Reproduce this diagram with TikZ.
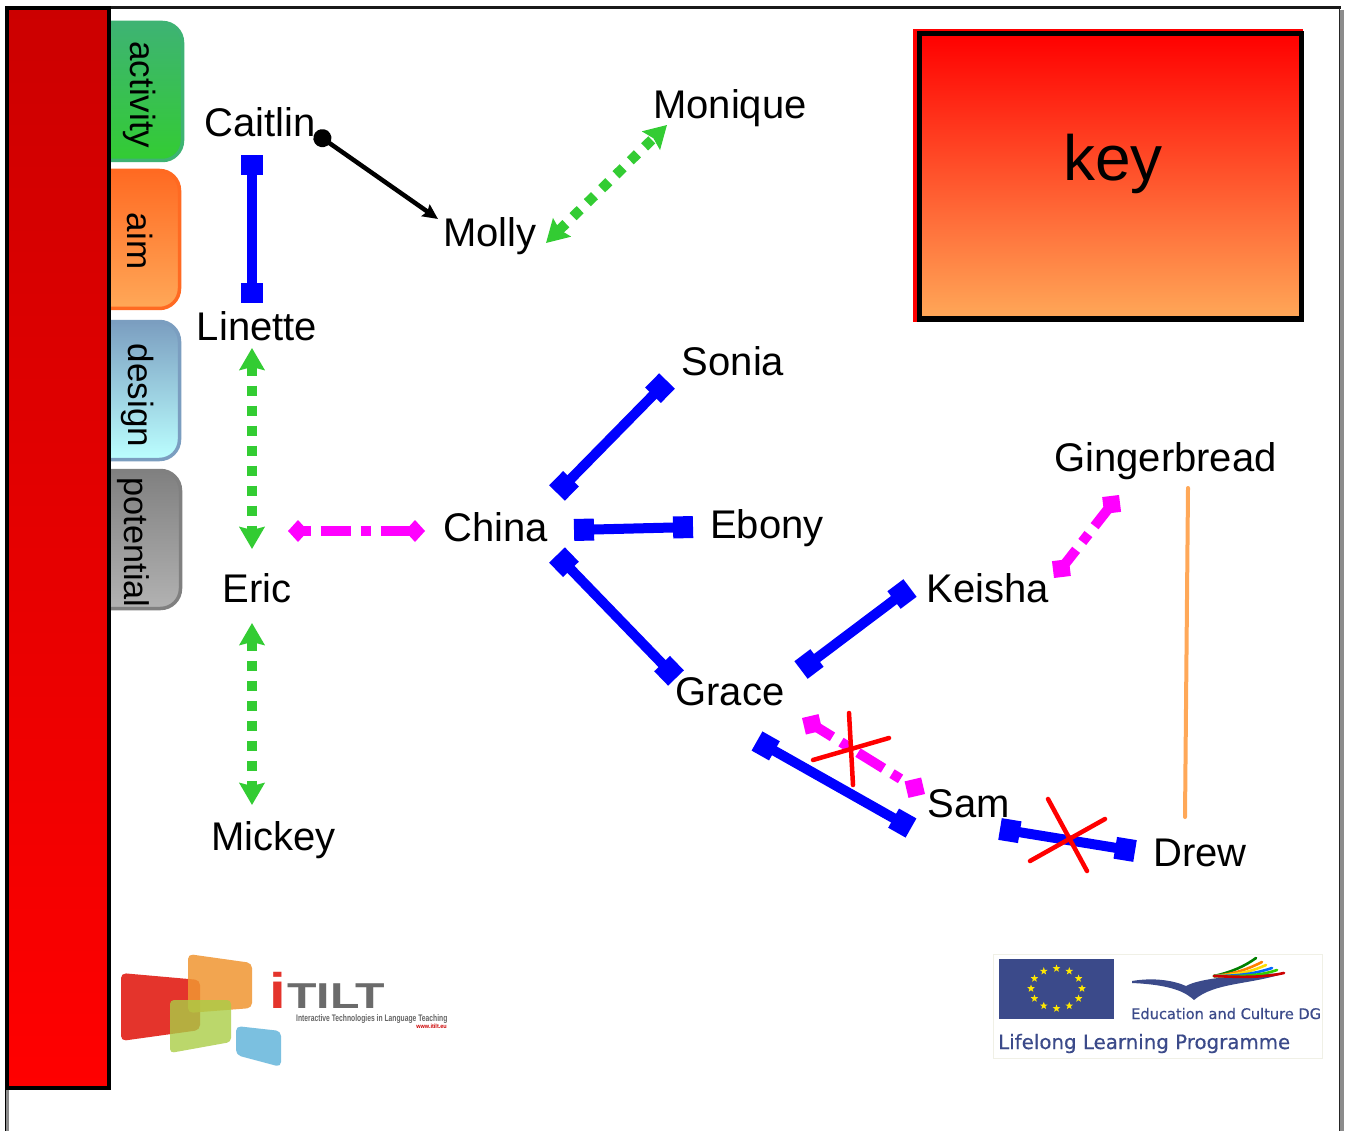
\documentclass[tikz,border=0pt]{standalone}
\usepackage{fontspec}
\setmainfont{Liberation Sans}
\newfontfamily\eufont[FakeBold=0.5]{DejaVu Sans}
\usetikzlibrary{arrows.meta,shapes.geometric,calc}
\definecolor{cblue}{HTML}{0000FF}
\definecolor{cgreen}{HTML}{33CC33}
\definecolor{cmag}{HTML}{FF00FF}
\definecolor{corange}{HTML}{FFA858}
\definecolor{eublue}{HTML}{3B4A8A}
\definecolor{tabgreen}{HTML}{3EB373}
\definecolor{taborange}{HTML}{FF6A22}
\definecolor{tabblue}{HTML}{7B9EC0}
\definecolor{tablight}{HTML}{BBFFFF}
\definecolor{tabgray}{HTML}{808080}
\definecolor{tabgraylt}{HTML}{B2B2B2}
\tikzset{
 lbl/.style={font=\fontsize{40}{44}\selectfont,inner sep=0pt,text=black},
 tabtxt/.style={font=\fontsize{35}{40}\selectfont,inner sep=0pt,rotate=-90},
 tabbox/.style={line width=3.5pt,rounded corners=20pt},
 bluelink/.style={draw=cblue,line width=10pt,{Square[length=20pt,width=22pt]}-{Square[length=20pt,width=22pt]}},
 greenlink/.style={draw=cgreen,line width=10pt,dash pattern=on 10pt off 10pt,{Stealth[length=22pt,width=25pt,inset=3pt]}-{Stealth[length=22pt,width=25pt,inset=3pt]}},
 maglink/.style={draw=cmag,line width=10pt,dash pattern=on 30pt off 10pt on 10pt off 10pt,dash phase=40pt,{Diamond[length=20pt,width=22pt]}-{Diamond[length=20pt,width=22pt]}},
 maglinkb/.style={draw=cmag,line width=10pt,dash pattern=on 30pt off 10pt on 10pt off 10pt,dash phase=11pt,{Diamond[length=24pt,width=24pt]}-{Diamond[length=24pt,width=24pt]}},
 blacklink/.style={draw=black,line width=4.5pt,{Circle[length=18pt]}-{Stealth[length=15pt,width=14pt,inset=2pt]}},
 crossline/.style={draw=red,line width=4.5pt,line cap=round},
 eustar/.style={star,star points=5,star point ratio=2.4,fill=yellow!90!orange,draw=none,minimum size=8pt,inner sep=0pt},
 band/.style={line width=2.6pt,line cap=round},
}
\begin{document}
\begin{tikzpicture}[x=1pt,y=-1pt]
\useasboundingbox (0,0) rectangle (1348,1131);
% page frame
\fill[white] (0,0) rectangle (1348,1131);
\draw[line width=4pt,black!45] (1342,10) -- (1342,1131);
\draw[line width=3pt,black!90] (7,8) -- (1341,8);
\draw[line width=1.4pt,black!85] (1339.5,8) -- (1339.5,1131);
\draw[line width=3pt,black!45] (7,1088) -- (7,1131);
\draw[line width=1pt,black] (5.8,1088) -- (5.8,1131);
% tabs
\draw[tabbox,draw=tabgreen,top color=tabgreen,bottom color=cgreen] (90,22.5) -- (182.5,22.5) -- (182.5,160.5) -- (90,160.5) -- cycle;
\draw[tabbox,draw=taborange,top color=taborange,bottom color=corange] (90,170.5) -- (179.5,170.5) -- (179.5,308.5) -- (90,308.5) -- cycle;
\draw[tabbox,draw=tabblue,top color=tabblue,bottom color=tablight] (90,321.5) -- (179.5,321.5) -- (179.5,459.5) -- (90,459.5) -- cycle;
\draw[tabbox,draw=tabgray,top color=tabgray,bottom color=tabgraylt] (90,470.5) -- (180.5,470.5) -- (180.5,608.5) -- (90,608.5) -- cycle;
\node[tabtxt] (tactivity) at (139.5,95) {activity};
\node[tabtxt] (taim) at (140.5,241) {aim};
\node[tabtxt] (tdesign) at (138,395.5) {design};
\node[tabtxt,font=\fontsize{34.3}{40}\selectfont] (tpotential) at (133,542.5) {potential};
% red bar
\draw[line width=4pt,draw=black,top color={rgb,255:red,204;green,0;blue,0},bottom color=red] (7,8) rectangle (108.5,1088);
% key
\fill[red] (913,29) rectangle (1303,322);
\draw[line width=5pt,draw=black,top color=red,bottom color=corange] (919,34) rectangle (1301,319);
\node[font=\fontsize{64}{70}\selectfont,inner sep=0pt] (key) at (1113,164) {key};
% labels
\node[lbl] (caitlin) at (260,122) {Caitlin};
\node[lbl] (monique) at (730,108) {Monique};
\node[lbl] (molly) at (490,236) {Molly};
\node[lbl] (linette) at (257,326) {Linette};
\node[lbl] (sonia) at (733,361) {Sonia};
\node[lbl] (china) at (495.5,527) {China};
\node[lbl] (ebony) at (767,528) {Ebony};
\node[lbl] (eric) at (257,588) {Eric};
\node[lbl] (gingerbread) at (1165.5,461) {Gingerbread};
\node[lbl] (keisha) at (988,588) {Keisha};
\node[lbl] (grace) at (730,691.5) {Grace};
\node[lbl] (sam) at (968.5,804) {Sam};
\node[lbl] (drew) at (1200,853) {Drew};
\node[lbl] (mickey) at (273.5,840) {Mickey};
% connector ends
\coordinate (cl1) at (252,155); \coordinate (cl2) at (252,303);
\coordinate (cm1) at (315,133); \coordinate (cm2) at (438,219);
\coordinate (mm1) at (546,243); \coordinate (mm2) at (667,125);
\coordinate (le1) at (252,348); \coordinate (le2) at (252,549);
\coordinate (em1) at (252,623); \coordinate (em2) at (252,805);
\coordinate (ec1) at (288,531); \coordinate (ec2) at (425,531);
\coordinate (cs1) at (557,493); \coordinate (cs2) at (667,381);
\coordinate (ce1) at (574,530); \coordinate (ce2) at (693,527);
\coordinate (cg1) at (557,555); \coordinate (cg2) at (676,678);
\coordinate (gk1) at (801,670); \coordinate (gk2) at (910,588);
\coordinate (gs1) at (757,741); \coordinate (gs2) at (911,828);
\coordinate (sd1) at (1000,829); \coordinate (sd2) at (1135,851);
\coordinate (gm1) at (802,718); \coordinate (gm2) at (925,794);
\coordinate (kg1) at (1054,578); \coordinate (kg2) at (1119,495);
\coordinate (gd1) at (1188,488); \coordinate (gd2) at (1185,817);
% connectors
\draw[bluelink] (cl1) -- (cl2);
\draw[blacklink] (cm1) -- (cm2);
\draw[greenlink] (mm1) -- (mm2);
\draw[greenlink] (le1) -- (le2);
\draw[greenlink] (em1) -- (em2);
\draw[maglink] (ec1) -- (ec2);
\draw[bluelink] (cs1) -- (cs2);
\draw[bluelink] (ce1) -- (ce2);
\draw[bluelink] (cg1) -- (cg2);
\draw[bluelink] (gk1) -- (gk2);
\draw[bluelink] (gs1) -- (gs2);
\draw[bluelink] (sd1) -- (sd2);
\draw[maglinkb] (gm1) -- (gm2);
\draw[maglinkb] (kg1) -- (kg2);
\draw[draw=corange,line width=4pt,line cap=round] (gd1) -- (gd2);
% crosses
\coordinate (xa1) at (849,713); \coordinate (xa2) at (853,785);
\coordinate (xa3) at (813,760); \coordinate (xa4) at (889,738);
\coordinate (xb1) at (1048,799); \coordinate (xb2) at (1087,871);
\coordinate (xb3) at (1030,861); \coordinate (xb4) at (1105,819);
\draw[crossline] (xa1) -- (xa2);
\draw[crossline] (xa3) -- (xa4);
\draw[crossline] (xb1) -- (xb2);
\draw[crossline] (xb3) -- (xb4);
% iTILT logo
\fill[rounded corners=5pt,fill={rgb,255:red,228;green,52;blue,44}] (121,973) -- (200,980) -- (200,1030) -- (121,1041) -- cycle;
\fill[rounded corners=5pt,fill={rgb,255:red,240;green,150;blue,50},fill opacity=.85] (188,954) -- (252,963) -- (252,1008) -- (188,1013) -- cycle;
\fill[rounded corners=4pt,fill={rgb,255:red,170;green,205;blue,70},fill opacity=.8] (170,1000) -- (231,1000) -- (231,1042) -- (170,1053) -- cycle;
\fill[rounded corners=5pt,fill={rgb,255:red,123;green,192;blue,224}] (236,1026) -- (281,1031) -- (281,1067) -- (236,1055) -- cycle;
\node[anchor=base west,inner sep=0pt,font=\bfseries\fontsize{50}{52}\selectfont,text={rgb,255:red,228;green,52;blue,44}] (logoi) at (269,1008) {\scalebox{1.2}[1]{i}};
\node[anchor=base west,inner sep=0pt,font=\bfseries\fontsize{36}{40}\selectfont,text=black!58] (logot) at (287,1008) {\scalebox{1.34}[1]{TILT}};
\node[anchor=base west,inner sep=0pt,font=\bfseries\fontsize{9.5}{10}\selectfont,text=black!60] (logos) at (296,1021) {\scalebox{.71}[1]{Interactive Technologies in Language Teaching}};
\node[anchor=base east,inner sep=0pt,font=\bfseries\fontsize{6}{7}\selectfont,text=red!80!black] (logou) at (447,1028) {\scalebox{.92}[1]{www.itilt.eu}};
% EU logo
\draw[line width=1pt,draw={rgb,255:red,240;green,240;blue,230}] (993.5,954.5) rectangle (1322.5,1058);
\fill[eublue] (999,958.5) rectangle (1114,1019);
\coordinate (star0) at (1056.5,988.5);
\foreach \k in {0,30,...,330} \node[eustar] (eu\k) at ($(star0)+(\k:25.5 and 20)$) {};
\fill[eublue] (1132,981) .. controls (1155,977) and (1175,981) .. (1186,986) .. controls (1200,978) and (1240,975) .. (1285,973) .. controls (1250,985) and (1215,982) .. (1194,1000) .. controls (1188,995) and (1178,985) .. (1132,983) -- cycle;
\coordinate (bd0) at (1214,976);
\draw[band,draw=green!50!black] (bd0) .. controls (1232,972) and (1245,966) .. (1256,958);
\draw[band,draw=orange] (bd0) .. controls (1236,974) and (1250,968) .. (1262,962);
\draw[band,draw=yellow!80!orange] (bd0) .. controls (1240,975) and (1255,970) .. (1266,965);
\draw[band,draw=blue!60!cyan] (bd0) .. controls (1245,976) and (1260,972) .. (1272,968);
\draw[band,draw=green!60!olive] (bd0) .. controls (1250,977) and (1265,974) .. (1277,970);
\draw[band,draw=red!80!black] (bd0) .. controls (1255,978) and (1270,976) .. (1284,973);
\node[anchor=base west,inner sep=0pt,font=\eufont\fontsize{14.6}{16}\selectfont,text=eublue] (euedu) at (1131,1019) {Education and Culture DG};
\node[anchor=base west,inner sep=0pt,font=\eufont\fontsize{19.8}{22}\selectfont,text=eublue] (eulll) at (998,1049) {Lifelong Learning Programme};
\end{tikzpicture}
\end{document}
